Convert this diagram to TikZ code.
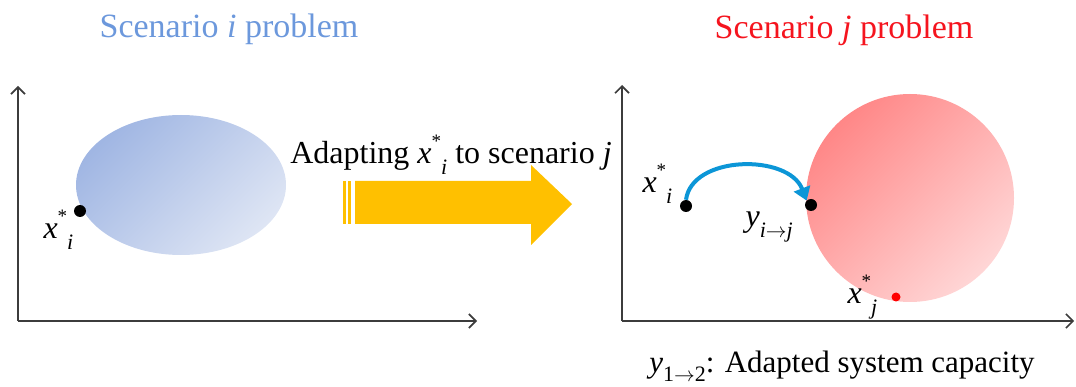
\documentclass[tikz,border=0pt]{standalone}
\usepackage{fontspec}
\setmainfont{Liberation Serif}
\usetikzlibrary{arrows.meta, positioning, calc, shapes}
\definecolor{softblue}{RGB}{160,182,227}
\definecolor{paleblue}{RGB}{222,229,244}
\definecolor{titleblue}{RGB}{108,152,220}
\definecolor{softred}{RGB}{255,135,135}
\definecolor{palered}{RGB}{255,214,214}
\definecolor{titlered}{RGB}{245,20,30}
\definecolor{gold}{RGB}{255,192,0}
\definecolor{jumpblue}{RGB}{12,150,215}
\definecolor{axisgray}{RGB}{60,60,60}
\newcommand{\supfont}{\fontsize{19}{19}\selectfont}
\newcommand{\subfont}{\fontsize{22}{22}\selectfont}
\newcommand{\xopt}[1]{\textit{x}\raisebox{0.5em}{\supfont *}\raisebox{-0.32em}{\subfont\textit{#1}}}

\begin{document}
\begin{tikzpicture}[x=1pt, y=-1pt,
  every node/.style={font=\fontsize{32}{38}\selectfont},
  dot/.style={circle, fill=black, inner sep=0pt, minimum size=12pt},
  axis/.style={axisgray, line width=1.6pt, -{Straight Barb[length=7pt,width=14pt]}}]
  \useasboundingbox (0,0) rectangle (1076,387);
  % Titles
  \node[titleblue, anchor=base, font=\fontsize{34}{40}\selectfont] (titlei) at (229,38) {Scenario \textit{i} problem};
  \node[titlered, anchor=base, font=\fontsize{34}{40}\selectfont] (titlej) at (844,39) {Scenario \textit{j} problem};
  % Left axes
  \coordinate (oi) at (18,321);
  \draw[axis] (oi) -- (18,86);
  \draw[axis] (oi) -- (477,321);
  % Feasible region of scenario i
  \node[ellipse, draw=none, minimum width=210pt, minimum height=140pt, inner sep=0pt,
        top color=softblue, bottom color=paleblue, shading angle=45] (regioni) at (181,185) {};
  \node[dot] (xi) at (80,211) {};
  \node[anchor=base west] (labxi) at (40,239) {\xopt{i}};
  % Big arrow
  \fill[gold] (343,181) rectangle (346,224);
  \fill[gold] (348,181) rectangle (351,224);
  \fill[gold] (355,181) -- (531,181) -- (531,165) -- (572,204) -- (531,245) -- (531,224) -- (355,224) -- cycle;
  \node[anchor=base] (adapt) at (451,164) {Adapting \xopt{i} to scenario \textit{j}};
  % Right axes
  \coordinate (oj) at (622,321);
  \draw[axis] (oj) -- (622,85);
  \draw[axis] (oj) -- (1074,321);
  % Feasible region of scenario j
  \node[circle, draw=none, minimum size=208pt, inner sep=0pt,
        top color=softred, bottom color=palered, shading angle=45] (regionj) at (910,198) {};
  \node[dot] (xi2) at (686,206) {};
  \node[dot] (yij) at (811,205) {};
  \node[dot, fill=red, minimum size=9pt] (xj) at (896,297) {};
  \node[anchor=base west] (labxi2) at (639,193) {\xopt{i}};
  \node[anchor=base west] (labyij) at (742,227) {\textit{y}\raisebox{-0.32em}{\subfont\textit{i}$\rightarrow$\textit{j}}};
  \node[anchor=base west] (labxj) at (844,304) {\xopt{j}};
  % Adaptation jump
  \draw[jumpblue, line width=4pt, -{Triangle[length=13pt,width=17pt]}]
    (xi2.north) .. controls +(6,-45) and +(-18,-47) .. (yij.north west);
  % Legend
  \node[anchor=base, font=\fontsize{31}{37}\selectfont] (legend) at (842,372) {\textit{y}\raisebox{-0.3em}{\subfont 1$\rightarrow$2}: Adapted system capacity};
\end{tikzpicture}
\end{document}
